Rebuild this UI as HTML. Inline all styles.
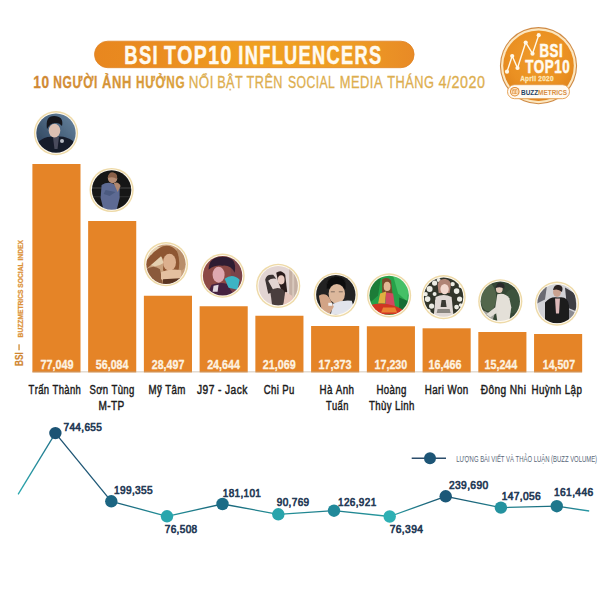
<!DOCTYPE html>
<html><head><meta charset="utf-8"><style>
html,body{margin:0;padding:0;background:#fff;width:600px;height:600px;overflow:hidden}
svg{display:block}
text{font-family:"Liberation Sans",sans-serif;font-kerning:none}
</style></head><body>
<svg width="600" height="600" viewBox="0 0 600 600">
<defs>
<linearGradient id="pill" x1="0" x2="1" y1="0" y2="0">
<stop offset="0" stop-color="#e8871f"/><stop offset="0.2" stop-color="#ea8c20"/><stop offset="0.5" stop-color="#f0a020"/><stop offset="0.8" stop-color="#ee9c24"/><stop offset="1" stop-color="#e88a26"/>
</linearGradient>
<linearGradient id="sub" gradientUnits="userSpaceOnUse" x1="34" x2="186" y1="0" y2="0">
<stop offset="0" stop-color="#cf8632"/><stop offset="1" stop-color="#dba23e"/>
</linearGradient>
<radialGradient id="badge" cx="0.5" cy="0.4" r="0.6">
<stop offset="0" stop-color="#f09c2a"/><stop offset="0.7" stop-color="#ea9022"/><stop offset="1" stop-color="#e0841c"/>
</radialGradient>
<linearGradient id="g1" x1="0" x2="1" y1="1" y2="0"><stop offset="0" stop-color="#263a52"/><stop offset="1" stop-color="#6a88a4"/></linearGradient>
<clipPath id="avc"><circle cx="0" cy="0" r="19.7"/></clipPath>
<filter id="soft" x="-10%" y="-10%" width="120%" height="120%"><feGaussianBlur stdDeviation="0.45"/></filter>
</defs>
<rect width="600" height="600" fill="#fff"/>

<rect x="94.5" y="41.2" width="319.6" height="26.5" rx="13.25" fill="url(#pill)" stroke="#df8426" stroke-width="0.8"/>
<text x="124.32" y="63.5" font-size="25" font-weight="bold" fill="#fffaf0" stroke="#fffaf0" stroke-width="0.5" letter-spacing="1.8" textLength="34.69" lengthAdjust="spacingAndGlyphs">BSI</text>
<text x="164.03" y="63.5" font-size="25" font-weight="bold" fill="#fffaf0" stroke="#fffaf0" stroke-width="0.5" letter-spacing="1.8" textLength="68.62" lengthAdjust="spacingAndGlyphs">TOP10</text>
<text x="238.33" y="63.5" font-size="25" font-weight="bold" fill="#fffaf0" stroke="#fffaf0" stroke-width="0.5" letter-spacing="1.8" textLength="144.15" lengthAdjust="spacingAndGlyphs">INFLUENCERS</text>
<text x="33.24" y="88" font-size="17" font-weight="bold" fill="url(#sub)" stroke="url(#sub)" stroke-width="0.3" letter-spacing="0.9" textLength="16.64" lengthAdjust="spacingAndGlyphs">10</text>
<text x="53.30" y="88" font-size="17" font-weight="bold" fill="url(#sub)" stroke="url(#sub)" stroke-width="0.3" letter-spacing="0.9" textLength="44.74" lengthAdjust="spacingAndGlyphs">NGƯỜI</text>
<text x="101.98" y="88" font-size="17" font-weight="bold" fill="url(#sub)" stroke="url(#sub)" stroke-width="0.3" letter-spacing="0.9" textLength="30.19" lengthAdjust="spacingAndGlyphs">ẢNH</text>
<text x="136.01" y="88" font-size="17" font-weight="bold" fill="url(#sub)" stroke="url(#sub)" stroke-width="0.3" letter-spacing="0.9" textLength="49.25" lengthAdjust="spacingAndGlyphs">HƯỞNG</text>
<text x="188.70" y="88" font-size="16.8" fill="#ddae4e" stroke="#ddae4e" stroke-width="0.3" letter-spacing="0.6" textLength="25.21" lengthAdjust="spacingAndGlyphs">NỔI</text>
<text x="217.16" y="88" font-size="16.8" fill="#ddae4e" stroke="#ddae4e" stroke-width="0.3" letter-spacing="0.6" textLength="26.09" lengthAdjust="spacingAndGlyphs">BẬT</text>
<text x="246.61" y="88" font-size="16.8" fill="#ddae4e" stroke="#ddae4e" stroke-width="0.3" letter-spacing="0.6" textLength="36.37" lengthAdjust="spacingAndGlyphs">TRÊN</text>
<text x="287.95" y="88" font-size="16.8" fill="#ddae4e" stroke="#ddae4e" stroke-width="0.3" letter-spacing="0.6" textLength="47.40" lengthAdjust="spacingAndGlyphs">SOCIAL</text>
<text x="339.84" y="88" font-size="16.8" fill="#ddae4e" stroke="#ddae4e" stroke-width="0.3" letter-spacing="0.6" textLength="43.14" lengthAdjust="spacingAndGlyphs">MEDIA</text>
<text x="387.21" y="88" font-size="16.8" fill="#ddae4e" stroke="#ddae4e" stroke-width="0.3" letter-spacing="0.6" textLength="47.21" lengthAdjust="spacingAndGlyphs">THÁNG</text>
<text x="438.57" y="88" font-size="16.8" fill="#ddae4e" stroke="#ddae4e" stroke-width="0.3" letter-spacing="0.6" textLength="46.90" lengthAdjust="spacingAndGlyphs">4/2020</text>
<rect x="32.40" y="164.00" width="48.1" height="208.40" fill="#e58427"/>
<text x="40.38" y="368.8" font-size="13.3" font-weight="bold" fill="#fdf3e2" stroke="#fdf3e2" stroke-width="0.3" textLength="33.17" lengthAdjust="spacingAndGlyphs">77,049</text>
<text x="28.54" y="393.6" font-size="12.5" fill="#1c1c1c" stroke="#1c1c1c" stroke-width="0.45" letter-spacing="0.5" textLength="52.71" lengthAdjust="spacingAndGlyphs">Trấn Thành</text>
<circle cx="56.00" cy="133.10" r="22.1" fill="#eedaa8"/>
<circle cx="56.00" cy="133.10" r="20.7" fill="#fffaf0"/>
<g transform="translate(56.00,133.10)"><g clip-path="url(#avc)"><g filter="url(#soft)"><rect x="-21" y="-21" width="42" height="42" fill="url(#g1)"/>
<path d="M-20 21 L-18 9 Q-10 2 -1 4 Q9 2 17 8 L20 21Z" fill="#181c2c"/>
<path d="M-3 4 L3 4 L1.5 16 L-1.5 16Z" fill="#4a4c5c"/>
<ellipse cx="-1.5" cy="-2.5" rx="5.8" ry="6.8" fill="#dcc0b2"/>
<path d="M-9 -4 Q-11 -17 -2 -17 Q8 -17 6 -7 Q3 -11 -1 -10 Q-6 -10 -9 -4Z" fill="#14161e"/>
<circle cx="6" cy="8" r="2" fill="#b8bcc4"/></g></g></g>
<rect x="88.14" y="221.00" width="48.1" height="151.40" fill="#e58427"/>
<text x="95.82" y="368.8" font-size="13.3" font-weight="bold" fill="#fdf3e2" stroke="#fdf3e2" stroke-width="0.3" textLength="32.69" lengthAdjust="spacingAndGlyphs">56,084</text>
<text x="89.42" y="393.6" font-size="12.5" fill="#1c1c1c" stroke="#1c1c1c" stroke-width="0.45" letter-spacing="0.5" textLength="45.33" lengthAdjust="spacingAndGlyphs">Sơn Tùng</text>
<text x="98.42" y="409.90000000000003" font-size="12.5" fill="#1c1c1c" stroke="#1c1c1c" stroke-width="0.45" letter-spacing="0.5" textLength="26.26" lengthAdjust="spacingAndGlyphs">M-TP</text>
<circle cx="111.60" cy="190.00" r="22.1" fill="#eedaa8"/>
<circle cx="111.60" cy="190.00" r="20.7" fill="#fffaf0"/>
<g transform="translate(111.60,190.00)"><g clip-path="url(#avc)"><g filter="url(#soft)"><rect x="-21" y="-21" width="42" height="42" fill="#151515"/>
<rect x="-20" y="-3" width="40" height="2" fill="#2e2e2e"/>
<rect x="-20" y="6" width="40" height="1.5" fill="#2a2a2a"/>
<path d="M-10 -5 Q-4 -9 2 -6 L8 -2 L8 8 L5 20 L-8 20 L-11 8Z" fill="#5d6b93"/>
<path d="M-6 0 L4 2 L-2 6 L-8 4Z" fill="#4c5a80"/>
<path d="M2 -7 Q7 -9 9 -4 L6 2Z" fill="#b08870"/>
<circle cx="1" cy="-11.5" r="4.7" fill="#b68d74"/>
<path d="M-4 -12 Q-3 -18.5 2 -17.5 Q7 -16 5 -11 Q2 -14 -4 -12Z" fill="#8a6048"/></g></g></g>
<rect x="143.88" y="295.75" width="48.1" height="76.65" fill="#e58427"/>
<text x="151.78" y="368.8" font-size="13.3" font-weight="bold" fill="#fdf3e2" stroke="#fdf3e2" stroke-width="0.3" textLength="32.54" lengthAdjust="spacingAndGlyphs">28,497</text>
<text x="148.45" y="393.6" font-size="12.5" fill="#1c1c1c" stroke="#1c1c1c" stroke-width="0.45" letter-spacing="0.5" textLength="37.32" lengthAdjust="spacingAndGlyphs">Mỹ Tâm</text>
<circle cx="166.00" cy="264.20" r="22.1" fill="#eedaa8"/>
<circle cx="166.00" cy="264.20" r="20.7" fill="#fffaf0"/>
<g transform="translate(166.00,264.20)"><g clip-path="url(#avc)"><g filter="url(#soft)"><rect x="-21" y="-21" width="42" height="42" fill="#c9a27e"/>
<ellipse cx="-11" cy="-8" rx="11" ry="10" fill="#e4d0b0"/>
<ellipse cx="15" cy="-6" rx="6" ry="12" fill="#b88e6a"/>
<path d="M-7 -16 Q3 -22 11 -13 Q15 -3 12 8 L4 12 L-3 6 Q-2 -5 -5 -8 Q-13 -1 -20 5 L-20 -3 Q-14 -12 -7 -16Z" fill="#8e5632"/>
<ellipse cx="3.5" cy="-2" rx="6.5" ry="8.5" fill="#dcb08e"/>
<path d="M-20 5 Q-12 0 -6 5 L-3 20 L-20 20Z" fill="#8a5a3a"/>
<path d="M-5 8 Q3 4 15 6 Q17 14 10 16 Q0 18 -5 15Z" fill="#e4c0a0"/>
<path d="M-3 15 L14 14 L12 20 L-3 20Z" fill="#5a3420"/></g></g></g>
<rect x="199.62" y="306.25" width="48.1" height="66.15" fill="#e58427"/>
<text x="207.18" y="368.8" font-size="13.3" font-weight="bold" fill="#fdf3e2" stroke="#fdf3e2" stroke-width="0.3" textLength="32.73" lengthAdjust="spacingAndGlyphs">24,644</text>
<text x="197.09" y="393.6" font-size="12.5" fill="#1c1c1c" stroke="#1c1c1c" stroke-width="0.45" letter-spacing="0.5" textLength="50.65" lengthAdjust="spacingAndGlyphs">J97 - Jack</text>
<circle cx="222.60" cy="275.70" r="22.1" fill="#eedaa8"/>
<circle cx="222.60" cy="275.70" r="20.7" fill="#fffaf0"/>
<g transform="translate(222.60,275.70)"><g clip-path="url(#avc)"><g filter="url(#soft)"><rect x="-21" y="-21" width="42" height="42" fill="#8c4a44"/>
<rect x="8" y="-21" width="13" height="42" fill="#7a4248"/>
<path d="M-14 -6 Q-14 -20 2 -19 Q15 -18 12 -3 Q8 -11 0 -10 Q-8 -11 -14 -6Z" fill="#2e1c30"/>
<ellipse cx="-4" cy="-1" rx="6" ry="8" fill="#dfa8b0"/>
<path d="M-16 20 L-11 9 Q-2 6 4 8 L12 20Z" fill="#442040"/>
<path d="M2 3 Q10 -3 17 4 L15 14 L6 12Z" fill="#3cb4c4"/>
<path d="M-9 10 L-4 9 L-5 16 L-10 16Z" fill="#e0d6de"/></g></g></g>
<rect x="255.36" y="315.75" width="48.1" height="56.65" fill="#e58427"/>
<text x="262.78" y="368.8" font-size="13.3" font-weight="bold" fill="#fdf3e2" stroke="#fdf3e2" stroke-width="0.3" textLength="32.87" lengthAdjust="spacingAndGlyphs">21,069</text>
<text x="263.76" y="393.6" font-size="12.5" fill="#1c1c1c" stroke="#1c1c1c" stroke-width="0.45" letter-spacing="0.5" textLength="31.00" lengthAdjust="spacingAndGlyphs">Chi Pu</text>
<circle cx="278.20" cy="285.80" r="22.1" fill="#eedaa8"/>
<circle cx="278.20" cy="285.80" r="20.7" fill="#fffaf0"/>
<g transform="translate(278.20,285.80)"><g clip-path="url(#avc)"><g filter="url(#soft)"><rect x="-21" y="-21" width="42" height="42" fill="#e2d4d2"/>
<rect x="11" y="-21" width="10" height="42" fill="#c4b0a4"/>
<rect x="14" y="-21" width="2" height="42" fill="#d8c8bc"/>
<path d="M-13 -6 Q-12 -12 -5 -11 L-2 -7 Q-7 -8 -10 -5 L-4 6 L-10 8Z" fill="#3a3030"/>
<path d="M-2 -13 Q3 -17 7 -11 L9 6 L5 9 L0 -4Z" fill="#2c1e1c"/>
<ellipse cx="3" cy="-6" rx="3.4" ry="4.6" fill="#eaccc2"/>
<path d="M-8 5 Q-1 0 5 4 L8 9 L5 20 L-6 20Z" fill="#4a3e3e"/>
<path d="M7 6 L14 10 L16 20 L5 20Z" fill="#e6c6bc"/></g></g></g>
<rect x="311.10" y="326.00" width="48.1" height="46.40" fill="#e58427"/>
<text x="318.47" y="368.8" font-size="13.3" font-weight="bold" fill="#fdf3e2" stroke="#fdf3e2" stroke-width="0.3" textLength="33.18" lengthAdjust="spacingAndGlyphs">17,373</text>
<text x="319.45" y="393.6" font-size="12.5" fill="#1c1c1c" stroke="#1c1c1c" stroke-width="0.45" letter-spacing="0.5" textLength="34.93" lengthAdjust="spacingAndGlyphs">Hà Anh</text>
<text x="326.04" y="409.90000000000003" font-size="12.5" fill="#1c1c1c" stroke="#1c1c1c" stroke-width="0.45" letter-spacing="0.5" textLength="22.68" lengthAdjust="spacingAndGlyphs">Tuấn</text>
<circle cx="335.80" cy="294.80" r="22.1" fill="#eedaa8"/>
<circle cx="335.80" cy="294.80" r="20.7" fill="#fffaf0"/>
<g transform="translate(335.80,294.80)"><g clip-path="url(#avc)"><g filter="url(#soft)"><rect x="-21" y="-21" width="42" height="42" fill="#202020"/>
<path d="M-9 -6 Q-10 -18 1 -18 Q11 -18 10 -6 Z" fill="#111"/>
<ellipse cx="1" cy="-1" rx="8.2" ry="9.8" fill="#dcb89c"/>
<path d="M-5 -3 h4 M3 -3 h4" stroke="#6a5a50" stroke-width="0.8"/>
<path d="M-3 9 Q6 5 16 6 L20 20 L-5 20Z" fill="#e2e4ec"/>
<path d="M-17 1 Q-10 -3 -6 4 L-2 12 L-6 19 L-14 16Z" fill="#d2a486"/>
<rect x="-7.5" y="8" width="4" height="3" fill="#f2f2f2"/></g></g></g>
<rect x="366.84" y="326.25" width="48.1" height="46.15" fill="#e58427"/>
<text x="374.47" y="368.8" font-size="13.3" font-weight="bold" fill="#fdf3e2" stroke="#fdf3e2" stroke-width="0.3" textLength="32.82" lengthAdjust="spacingAndGlyphs">17,230</text>
<text x="376.46" y="393.6" font-size="12.5" fill="#1c1c1c" stroke="#1c1c1c" stroke-width="0.45" letter-spacing="0.5" textLength="30.30" lengthAdjust="spacingAndGlyphs">Hoàng</text>
<text x="369.03" y="409.90000000000003" font-size="12.5" fill="#1c1c1c" stroke="#1c1c1c" stroke-width="0.45" letter-spacing="0.5" textLength="45.73" lengthAdjust="spacingAndGlyphs">Thùy Linh</text>
<circle cx="389.10" cy="295.40" r="22.1" fill="#eedaa8"/>
<circle cx="389.10" cy="295.40" r="20.7" fill="#fffaf0"/>
<g transform="translate(389.10,295.40)"><g clip-path="url(#avc)"><g filter="url(#soft)"><rect x="-21" y="-21" width="42" height="42" fill="#28a24a"/>
<path d="M-20 -10 L-8 -20 L-11 0 L-20 8Z" fill="#1a7c38"/>
<path d="M4 -20 L20 -12 L18 6 L9 -2Z" fill="#44c066"/>
<path d="M10 2 L20 6 L20 20 L10 16Z" fill="#186e34"/>
<path d="M-7 -16 Q-2 -19 2 -15 L4 4 L-7 4Z" fill="#7a4a2c"/>
<ellipse cx="-2" cy="-9" rx="3.4" ry="4.6" fill="#e2b894"/>
<path d="M-9 -2 L-3 -4 L-4 8 L-11 8Z" fill="#e0b040"/>
<path d="M-3 -3 L4 -2 L6 12 L-4 12Z" fill="#d24a60"/>
<path d="M-20 10 Q-8 6 4 10 Q12 12 18 18 L-20 20Z" fill="#d03424"/>
<path d="M-6 12 L6 12 L8 17 L-8 17Z" fill="#ea8030"/></g></g></g>
<rect x="422.58" y="328.30" width="48.1" height="44.10" fill="#e58427"/>
<text x="428.47" y="368.8" font-size="13.3" font-weight="bold" fill="#fdf3e2" stroke="#fdf3e2" stroke-width="0.3" textLength="33.18" lengthAdjust="spacingAndGlyphs">16,466</text>
<text x="424.85" y="393.6" font-size="12.5" fill="#1c1c1c" stroke="#1c1c1c" stroke-width="0.45" letter-spacing="0.5" textLength="43.83" lengthAdjust="spacingAndGlyphs">Hari Won</text>
<circle cx="443.60" cy="297.10" r="22.1" fill="#eedaa8"/>
<circle cx="443.60" cy="297.10" r="20.7" fill="#fffaf0"/>
<g transform="translate(443.60,297.10)"><g clip-path="url(#avc)"><g filter="url(#soft)"><rect x="-21" y="-21" width="42" height="42" fill="#30342c"/>
<g fill="#ecece4"><circle cx="-14" cy="-8" r="3"/><circle cx="-9" cy="-14" r="2.6"/><circle cx="-16" cy="2" r="2.8"/><circle cx="-12" cy="9" r="2.6"/><circle cx="-18" cy="-3" r="2.2"/><circle cx="13" cy="-6" r="2.8"/><circle cx="16" cy="2" r="2.6"/><circle cx="13" cy="10" r="2.4"/><circle cx="9" cy="-13" r="2.2"/><circle cx="-9" cy="-3" r="2"/><circle cx="-5" cy="-17" r="2"/><circle cx="17" cy="-11" r="2"/><circle cx="-15" cy="14" r="2"/><circle cx="17" cy="8" r="1.8"/><circle cx="-7" cy="4" r="1.6"/></g>
<path d="M-6 -12 Q-5 -19 2 -18 Q8 -17 7 -10 L6 -4 L-5 -4Z" fill="#b08474"/>
<ellipse cx="1" cy="-8" rx="4.2" ry="5.2" fill="#f2d8ce"/>
<path d="M-8 0 Q0 -4 8 0 L10 20 L-10 20Z" fill="#e0d8d4"/>
<path d="M-2 3 L2 3 L3 10 L-3 10Z" fill="#3a3a34"/>
<path d="M-6 12 L6 12 L7 16 L-7 16Z" fill="#8a8680"/></g></g></g>
<rect x="478.32" y="332.00" width="48.1" height="40.40" fill="#e58427"/>
<text x="484.47" y="368.8" font-size="13.3" font-weight="bold" fill="#fdf3e2" stroke="#fdf3e2" stroke-width="0.3" textLength="32.83" lengthAdjust="spacingAndGlyphs">15,244</text>
<text x="480.68" y="393.6" font-size="12.5" fill="#1c1c1c" stroke="#1c1c1c" stroke-width="0.45" letter-spacing="0.5" textLength="45.66" lengthAdjust="spacingAndGlyphs">Đông Nhi</text>
<circle cx="500.30" cy="301.30" r="22.1" fill="#eedaa8"/>
<circle cx="500.30" cy="301.30" r="20.7" fill="#fffaf0"/>
<g transform="translate(500.30,301.30)"><g clip-path="url(#avc)"><g filter="url(#soft)"><rect x="-21" y="-21" width="42" height="42" fill="#364634"/>
<ellipse cx="-12" cy="-4" rx="8" ry="14" fill="#52664c"/>
<ellipse cx="12" cy="0" rx="8" ry="12" fill="#3e523c"/>
<path d="M-20 8 L-6 14 L-8 20 L-20 20Z" fill="#a4a49c"/>
<path d="M-3 -7 Q5 -9 9 -3 L11 6 L9 20 L-3 20 L-5 6Z" fill="#e4e0d8"/>
<path d="M-5 6 L-14 13 L-10 16 L-1 10Z" fill="#e2ded6"/>
<ellipse cx="-1" cy="-12.5" rx="3.4" ry="4.2" fill="#e4cabb"/>
<path d="M-5 -13 Q-4 -19.5 1 -18.5 Q5 -17.5 4 -12.5 Q0 -15.5 -5 -13Z" fill="#2a2a2a"/></g></g></g>
<rect x="534.06" y="334.00" width="48.1" height="38.40" fill="#e58427"/>
<text x="542.78" y="368.8" font-size="13.3" font-weight="bold" fill="#fdf3e2" stroke="#fdf3e2" stroke-width="0.3" textLength="32.33" lengthAdjust="spacingAndGlyphs">14,507</text>
<text x="531.45" y="393.6" font-size="12.5" fill="#1c1c1c" stroke="#1c1c1c" stroke-width="0.45" letter-spacing="0.5" textLength="50.80" lengthAdjust="spacingAndGlyphs">Huỳnh Lập</text>
<circle cx="557.00" cy="303.60" r="22.1" fill="#eedaa8"/>
<circle cx="557.00" cy="303.60" r="20.7" fill="#fffaf0"/>
<g transform="translate(557.00,303.60)"><g clip-path="url(#avc)"><g filter="url(#soft)"><rect x="-21" y="-21" width="42" height="42" fill="#d2d2d6"/>
<path d="M-20 -12 L-10 -18 L-12 -4 L-20 0Z" fill="#6a6a72"/>
<path d="M8 -16 L18 -10 L20 8 L10 4Z" fill="#3c3c42"/>
<path d="M12 6 L20 10 L20 20 L12 20Z" fill="#8a8a90"/>
<path d="M-12 20 L-12 -1 Q-6 -8 1 -6 Q11 -8 12 2 L12 20Z" fill="#1c1c1e"/>
<path d="M-2 -5 L3 -5 L2 10 L-1 10Z" fill="#dcb8b8"/>
<ellipse cx="0" cy="-11.5" rx="4" ry="4.8" fill="#caa290"/>
<path d="M-4 -13.5 Q-3 -19.5 2 -18.5 Q7 -17.5 5 -11.5 Q1 -15.5 -4 -13.5Z" fill="#2a2020"/></g></g></g>
<rect x="32.4" y="371.3" width="549.6" height="1.1" fill="#b9a48c" opacity="0.55"/>
<text transform="translate(22.7,366) rotate(-90)" font-size="11" font-weight="bold" fill="#d08530" stroke="#d08530" stroke-width="0.2" textLength="13.8" lengthAdjust="spacingAndGlyphs">BSI</text>
<rect x="18.4" y="344.3" width="1.3" height="6" fill="#d08a30"/>
<text transform="translate(22.7,337.4) rotate(-90)" font-size="7.4" font-weight="bold" fill="#dc9238" stroke="#dc9238" stroke-width="0.25" textLength="97.3" lengthAdjust="spacingAndGlyphs">BUZZMETRICS SOCIAL INDEX</text>
<linearGradient id="sg0" gradientUnits="userSpaceOnUse" x1="18.1" y1="494.4" x2="55.4" y2="433.1"><stop offset="0" stop-color="#2aa8ae"/><stop offset="1" stop-color="#1f6f88"/></linearGradient>
<line x1="18.1" y1="494.4" x2="55.4" y2="433.1" stroke="url(#sg0)" stroke-width="1.3"/>
<linearGradient id="sg1" gradientUnits="userSpaceOnUse" x1="55.4" y1="433.1" x2="111.3" y2="501.3"><stop offset="0" stop-color="#1c5070"/><stop offset="1" stop-color="#1d5a78"/></linearGradient>
<line x1="55.4" y1="433.1" x2="111.3" y2="501.3" stroke="url(#sg1)" stroke-width="1.3"/>
<linearGradient id="sg2" gradientUnits="userSpaceOnUse" x1="111.3" y1="501.3" x2="167" y2="516.3"><stop offset="0" stop-color="#195a75"/><stop offset="1" stop-color="#24959b"/></linearGradient>
<line x1="111.3" y1="501.3" x2="167" y2="516.3" stroke="url(#sg2)" stroke-width="1.3"/>
<linearGradient id="sg3" gradientUnits="userSpaceOnUse" x1="167" y1="516.3" x2="222.5" y2="504"><stop offset="0" stop-color="#24959b"/><stop offset="1" stop-color="#196178"/></linearGradient>
<line x1="167" y1="516.3" x2="222.5" y2="504" stroke="url(#sg3)" stroke-width="1.3"/>
<linearGradient id="sg4" gradientUnits="userSpaceOnUse" x1="222.5" y1="504" x2="278.3" y2="514.3"><stop offset="0" stop-color="#196178"/><stop offset="1" stop-color="#249399"/></linearGradient>
<line x1="222.5" y1="504" x2="278.3" y2="514.3" stroke="url(#sg4)" stroke-width="1.3"/>
<linearGradient id="sg5" gradientUnits="userSpaceOnUse" x1="278.3" y1="514.3" x2="334" y2="510.7"><stop offset="0" stop-color="#249399"/><stop offset="1" stop-color="#1d7b8a"/></linearGradient>
<line x1="278.3" y1="514.3" x2="334" y2="510.7" stroke="url(#sg5)" stroke-width="1.3"/>
<linearGradient id="sg6" gradientUnits="userSpaceOnUse" x1="334" y1="510.7" x2="389.7" y2="516.5"><stop offset="0" stop-color="#1d7b8a"/><stop offset="1" stop-color="#299ea2"/></linearGradient>
<line x1="334" y1="510.7" x2="389.7" y2="516.5" stroke="url(#sg6)" stroke-width="1.3"/>
<linearGradient id="sg7" gradientUnits="userSpaceOnUse" x1="389.7" y1="516.5" x2="445.7" y2="496.3"><stop offset="0" stop-color="#299ea2"/><stop offset="1" stop-color="#184f6c"/></linearGradient>
<line x1="389.7" y1="516.5" x2="445.7" y2="496.3" stroke="url(#sg7)" stroke-width="1.3"/>
<linearGradient id="sg8" gradientUnits="userSpaceOnUse" x1="445.7" y1="496.3" x2="500.9" y2="507.6"><stop offset="0" stop-color="#184f6c"/><stop offset="1" stop-color="#20838f"/></linearGradient>
<line x1="445.7" y1="496.3" x2="500.9" y2="507.6" stroke="url(#sg8)" stroke-width="1.3"/>
<linearGradient id="sg9" gradientUnits="userSpaceOnUse" x1="500.9" y1="507.6" x2="556.8" y2="506.2"><stop offset="0" stop-color="#20838f"/><stop offset="1" stop-color="#1b6b7e"/></linearGradient>
<line x1="500.9" y1="507.6" x2="556.8" y2="506.2" stroke="url(#sg9)" stroke-width="1.3"/>
<linearGradient id="sg10" gradientUnits="userSpaceOnUse" x1="556.8" y1="506.2" x2="589.2" y2="511"><stop offset="0" stop-color="#1b6b7e"/><stop offset="1" stop-color="#2a9aa6"/></linearGradient>
<line x1="556.8" y1="506.2" x2="589.2" y2="511" stroke="url(#sg10)" stroke-width="1.3"/>
<circle cx="55.4" cy="433.1" r="6.2" fill="#1b5374"/>
<circle cx="111.3" cy="501.3" r="6.2" fill="#1c6582"/>
<circle cx="167" cy="516.3" r="6.2" fill="#29a6ad"/>
<circle cx="222.5" cy="504" r="6.2" fill="#1c6c86"/>
<circle cx="278.3" cy="514.3" r="6.2" fill="#28a4ab"/>
<circle cx="334" cy="510.7" r="6.2" fill="#21899a"/>
<circle cx="389.7" cy="516.5" r="6.2" fill="#2eb0b4"/>
<circle cx="445.7" cy="496.3" r="6.2" fill="#1b5878"/>
<circle cx="500.9" cy="507.6" r="6.2" fill="#24929f"/>
<circle cx="556.8" cy="506.2" r="6.2" fill="#1e778c"/>
<text x="63.49" y="430.7" font-size="11.5" fill="#1f3854" stroke="#1f3854" stroke-width="0.7" letter-spacing="0.4" textLength="38.74" lengthAdjust="spacingAndGlyphs">744,655</text>
<text x="113.98" y="494.3" font-size="11.5" fill="#1f3854" stroke="#1f3854" stroke-width="0.7" letter-spacing="0.4" textLength="39.05" lengthAdjust="spacingAndGlyphs">199,355</text>
<text x="164.74" y="532.5" font-size="11.5" fill="#1f3854" stroke="#1f3854" stroke-width="0.7" letter-spacing="0.4" textLength="32.80" lengthAdjust="spacingAndGlyphs">76,508</text>
<text x="222.79" y="496.7" font-size="11.5" fill="#1f3854" stroke="#1f3854" stroke-width="0.7" letter-spacing="0.4" textLength="38.49" lengthAdjust="spacingAndGlyphs">181,101</text>
<text x="276.78" y="505.9" font-size="11.5" fill="#1f3854" stroke="#1f3854" stroke-width="0.7" letter-spacing="0.4" textLength="32.69" lengthAdjust="spacingAndGlyphs">90,769</text>
<text x="337.99" y="505.9" font-size="11.5" fill="#1f3854" stroke="#1f3854" stroke-width="0.7" letter-spacing="0.4" textLength="38.60" lengthAdjust="spacingAndGlyphs">126,921</text>
<text x="389.72" y="533.2" font-size="11.5" fill="#1f3854" stroke="#1f3854" stroke-width="0.7" letter-spacing="0.4" textLength="33.59" lengthAdjust="spacingAndGlyphs">76,394</text>
<text x="449.04" y="488.7" font-size="11.5" fill="#1f3854" stroke="#1f3854" stroke-width="0.7" letter-spacing="0.4" textLength="39.47" lengthAdjust="spacingAndGlyphs">239,690</text>
<text x="501.67" y="499.7" font-size="11.5" fill="#1f3854" stroke="#1f3854" stroke-width="0.7" letter-spacing="0.4" textLength="39.38" lengthAdjust="spacingAndGlyphs">147,056</text>
<text x="554.07" y="496" font-size="11.5" fill="#1f3854" stroke="#1f3854" stroke-width="0.7" letter-spacing="0.4" textLength="39.38" lengthAdjust="spacingAndGlyphs">161,446</text>
<line x1="411.7" y1="458.3" x2="446" y2="458.3" stroke="#2b4d6b" stroke-width="1.6"/>
<circle cx="430" cy="458.3" r="6" fill="#1d5576"/>
<text x="456.22" y="461.7" font-size="8.5" fill="#586879" textLength="140.85" lengthAdjust="spacingAndGlyphs">LƯỢNG BÀI VIẾT VÀ THẢO LUẬN (BUZZ VOLUME)</text>
<circle cx="538.5" cy="65.7" r="38.6" fill="#cf8a45"/>
<circle cx="538.5" cy="65.7" r="37.5" fill="#fce7c0"/>
<circle cx="538.5" cy="65.7" r="35.3" fill="url(#badge)"/>
<polyline points="507,71.7 512.2,56 517.5,68 525.7,42.5 532.5,53.7 538.7,35.2" fill="none" stroke="#fff8e8" stroke-width="1.4"/>
<circle cx="507" cy="71.7" r="2.1" fill="#fff8e8"/>
<circle cx="512.2" cy="56" r="2.1" fill="#fff8e8"/>
<circle cx="517.5" cy="68" r="2.1" fill="#fff8e8"/>
<circle cx="525.7" cy="42.5" r="2.1" fill="#fff8e8"/>
<circle cx="532.5" cy="53.7" r="2.1" fill="#fff8e8"/>
<circle cx="538.7" cy="35.2" r="2.1" fill="#fff8e8"/>
<text x="539.42" y="57" font-size="18.8" font-weight="bold" fill="#fffaf0" stroke="#fffaf0" stroke-width="0.6" letter-spacing="0.8" textLength="23.73" lengthAdjust="spacingAndGlyphs">BSI</text>
<text x="525.15" y="73" font-size="19" font-weight="bold" fill="#fffaf0" stroke="#fffaf0" stroke-width="0.6" letter-spacing="0.8" textLength="45.16" lengthAdjust="spacingAndGlyphs">TOP10</text>
<text x="520.14" y="80.6" font-size="7.6" font-weight="bold" fill="#fde7bb" stroke="#fde7bb" stroke-width="0.3" letter-spacing="0.3" textLength="33.69" lengthAdjust="spacingAndGlyphs">April 2020</text>
<rect x="507.5" y="84.7" width="62" height="14" rx="7" fill="#fffaf2" stroke="#e39a48" stroke-width="0.9"/>
<circle cx="514.8" cy="91.7" r="4.8" fill="#e08a34"/>
<circle cx="514.8" cy="91.7" r="3.7" fill="#fdebd0"/>
<rect x="512.4" y="89.4" width="4.8" height="4.6" fill="#e08a34"/>
<rect x="512.9" y="90.6" width="0.9" height="3" fill="#fdebd0"/><rect x="514.4" y="89.9" width="0.9" height="3.7" fill="#fdebd0"/><rect x="515.9" y="90.2" width="0.9" height="3.4" fill="#fdebd0"/>
<text x="521" y="94.6" font-size="7.4" font-weight="bold" fill="#1f4264" textLength="46" lengthAdjust="spacingAndGlyphs">BUZZ<tspan fill="#d88f45">METRICS</tspan></text>
</svg></body></html>
